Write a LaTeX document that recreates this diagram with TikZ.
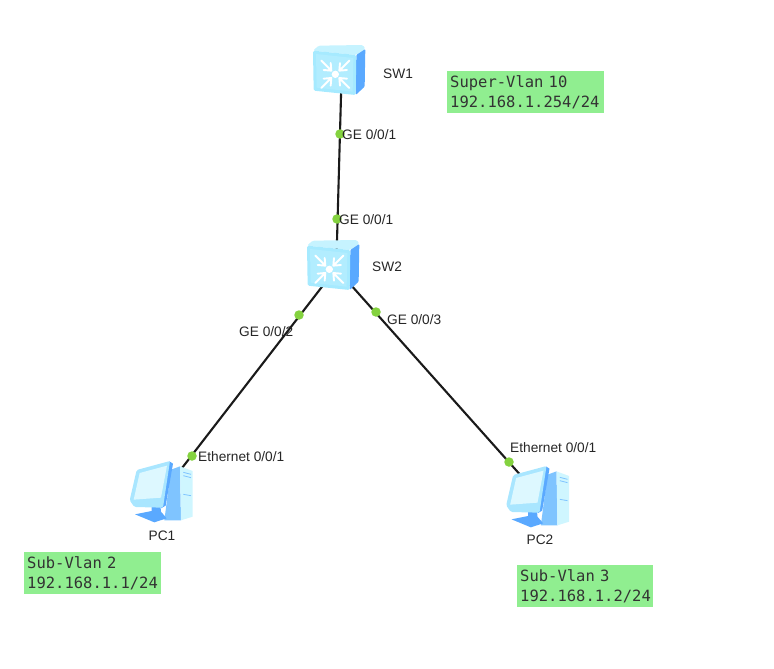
\documentclass[tikz,border=0pt]{standalone}
\usepackage{fontspec}
\setmainfont{Liberation Sans}
\newfontfamily\monofam{DejaVu Sans Mono}
\definecolor{linkc}{HTML}{1A1A1A}
\definecolor{dotc}{HTML}{84D23F}
\definecolor{boxc}{HTML}{90EE90}
\definecolor{frontc}{HTML}{A6EAFF}
\definecolor{innerc}{HTML}{B2EDFF}
\definecolor{topc}{HTML}{C6F3FF}
\definecolor{sidec}{HTML}{5AA9FF}
\definecolor{midc}{HTML}{7FC4FF}
\definecolor{screenc}{HTML}{DDF8FF}
\definecolor{towerc}{HTML}{CFF6FF}
\definecolor{framec}{HTML}{A9E6FF}
\tikzset{
  anchorbox/.style={rectangle,inner sep=0pt,minimum width=#1},
  link/.style={draw=linkc,line width=2.1pt},
  port/.style={circle,fill=dotc,inner sep=0pt,minimum size=9.5pt},
  lab/.style={font=\fontsize{13.7}{15}\selectfont,text=black!85,inner sep=0pt},
  note/.style={fill=boxc,inner xsep=3pt,inner ysep=0pt,minimum height=42pt,align=left,
    font=\monofam\fontsize{15.5}{20.5}\selectfont,text=black!80,anchor=north west},
  arrowline/.style={white,line width=1.9pt,line cap=round,line join=round}
}
\newcommand{\swicon}[2]{%
\begin{scope}[shift={(#1,#2)},x=0.3333pt,y=-0.3333pt]
  \fill[topc,rounded corners=1.5pt] (15,32) -- (32,17) -- (165,15) -- (172,27) -- (145,45) -- cycle;
  \fill[sidec,rounded corners=1pt] (145,45) -- (172,27) -- (170,140) -- (143,165) -- cycle;
  \fill[frontc,rounded corners=1.5pt] (15,32) -- (145,45) -- (143,165) -- (17,152) -- cycle;
  \fill[innerc] (24,42) -- (136,54) -- (134,155) -- (26,143) -- cycle;
  \fill[white] (82,103) circle (11);
  \foreach \sx/\sy in {1/1,-1/1,1/-1,-1/-1}{
    \begin{scope}[shift={(82,103)},xscale=\sx,yscale=\sy]
      \draw[arrowline] (-42,-41) -- (-12,-11) (-35,-13) -- (-12,-11) -- (-14,-34);
    \end{scope}}
\end{scope}}
\newcommand{\pcicon}[2]{%
\begin{scope}[shift={(#1,#2)},x=0.3333pt,y=-0.3333pt]
  \fill[midc] (138,44) -- (165,34) -- (168,196) -- (118,196) -- cycle;
  \fill[towerc] (165,34) -- (203,48) -- (203,185) -- (168,196) -- cycle;
  \draw[midc,line width=.8pt] (175,52) -- (198,58) (175,62) -- (198,68) (175,118) -- (198,122);
  \fill[sidec] (30,178) -- (80,168) -- (80,150) -- (106,150) -- (108,170) -- (125,190) -- (88,202) -- cycle;
  \fill[sidec] (133,19) -- (144,26) -- (122,152) -- (108,160) -- cycle;
  \fill[framec,rounded corners=1.5pt] (35,45) -- (135,18) -- (114,158) -- (28,156) -- (14,136) -- cycle;
  \fill[screenc] (44,54) -- (126,32) -- (108,128) -- (26,134) -- cycle;
\end{scope}}
\begin{document}
\begin{tikzpicture}[x=1pt,y=-1pt]
  \useasboundingbox (0,0) rectangle (774,669);
  \node[anchorbox=54pt,minimum height=52pt] (sw1) at (340,71) {};
  \node[anchorbox=54pt,minimum height=53pt] (sw2) at (334,266) {};
  \node[anchorbox=59pt,minimum height=63pt] (pc1) at (163.5,492) {};
  \node[anchorbox=64pt,minimum height=63pt] (pc2) at (540,497) {};
  \draw[link] ([xshift=1.7pt]sw1.center) -- ([xshift=2.3pt]sw2.center);
  \draw[link] ([xshift=4pt]sw2.center) -- (pc1.center);
  \draw[link] (sw2.center) -- (pc2.center);
  \swicon{308}{40}
  \swicon{302}{235}
  \pcicon{125}{455}
  \pcicon{501.5}{460}
  \node[port] (p1) at (340,134) {};
  \node[port] (p2) at (337,219) {};
  \node[port] (p3) at (299,315) {};
  \node[port] (p4) at (376,312) {};
  \node[port] (p5) at (192,456) {};
  \node[port] (p6) at (509,462) {};
  \node[lab,anchor=west] (l1) at (342,134.5) {GE 0/0/1};
  \node[lab,anchor=west] (l2) at (339,219.5) {GE 0/0/1};
  \node[lab,anchor=west] (l3) at (239,331.5) {GE 0/0/2};
  \node[lab,anchor=west] (l4) at (387,319.5) {GE 0/0/3};
  \node[lab,anchor=west] (l5) at (198,456.5) {Ethernet 0/0/1};
  \node[lab,anchor=west] (l6) at (510,447.5) {Ethernet 0/0/1};
  \node[lab,anchor=west] (n1) at (383,73.5) {SW1};
  \node[lab,anchor=west] (n2) at (372,266.5) {SW2};
  \node[lab] (n3) at (162,535.5) {PC1};
  \node[lab] (n4) at (540,539.5) {PC2};
  \node[note,text width=151pt] (b1) at (447,71) {Super-Vlan 10\\192.168.1.254/24};
  \node[note,text width=131pt] (b2) at (24,552) {Sub-Vlan 2\\192.168.1.1/24};
  \node[note,text width=130pt] (b3) at (517,565) {Sub-Vlan 3\\192.168.1.2/24};
\end{tikzpicture}
\end{document}
